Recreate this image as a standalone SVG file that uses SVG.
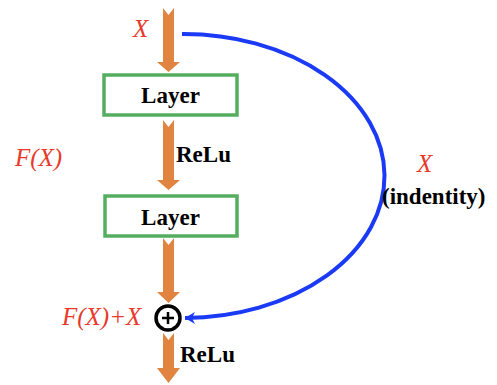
<svg xmlns="http://www.w3.org/2000/svg" width="497" height="385" viewBox="0 0 497 385">
<defs>
<marker id="bh" markerWidth="12" markerHeight="12" refX="10" refY="6" orient="auto" markerUnits="userSpaceOnUse">
<path d="M0,0 L10,6 L0,12 L3,6 Z" fill="#1A3AF5"/>
</marker>
<path id="blk" d="M-5.5,0 L0,7 L5.5,0 L5.5,1 Z"/>
</defs>
<g id="connectors">
<g fill="#E0843F">
<path d="M163,8 L168.5,15 L174,8 L174,62 L180,62 L168.5,72 L157,62 L163,62 Z"/>
<path d="M163,120 L168.5,127 L174,120 L174,180 L180,180 L168.5,190 L157,180 L163,180 Z"/>
<path d="M163,238 L168.5,245 L174,238 L174,292 L180,292 L168.5,303 L157,292 L163,292 Z"/>
<path d="M163,333 L168.5,340 L174,333 L174,368 L180,368 L168.5,383 L157,368 L163,368 Z"/>
</g>
<path d="M182,34 A201,142 0 0 1 185,318" fill="none" stroke="#1A3AF5" stroke-width="4" marker-end="url(#bh)"/>
</g>
<g id="layer1">
<rect x="104" y="75" width="133" height="40" fill="#fff" stroke="#55AE5F" stroke-width="3.5"/>
<text x="170.5" y="103" text-anchor="middle" font-family="Liberation Serif" font-weight="bold" font-size="23">Layer</text>
</g>
<g id="layer2">
<rect x="105" y="196" width="132" height="40" fill="#fff" stroke="#55AE5F" stroke-width="3.5"/>
<text x="170.5" y="225" text-anchor="middle" font-family="Liberation Serif" font-weight="bold" font-size="23">Layer</text>
</g>
<g id="sum">
<circle cx="168" cy="318" r="12" fill="#fff" stroke="#000" stroke-width="3.5"/>
<path d="M162,318 H174 M168,312 V324" stroke="#000" stroke-width="2.5"/>
</g>
<g id="labels">
<text x="133" y="37" font-family="Liberation Serif" font-style="italic" font-size="25" fill="#E8392B">X</text>
<text x="15" y="166" font-family="Liberation Serif" font-style="italic" font-size="25" fill="#E8392B">F(X)</text>
<text x="417" y="172" font-family="Liberation Serif" font-style="italic" font-size="25" fill="#E8392B">X</text>
<text x="62" y="325" font-family="Liberation Serif" font-style="italic" font-size="25" fill="#E8392B">F(X)+X</text>
<text x="176" y="162" font-family="Liberation Serif" font-weight="bold" font-size="23">ReLu</text>
<text x="180" y="362" font-family="Liberation Serif" font-weight="bold" font-size="23">ReLu</text>
<text x="382" y="204" font-family="Liberation Serif" font-weight="bold" font-size="23">(indentity)</text>
</g>
</svg>
